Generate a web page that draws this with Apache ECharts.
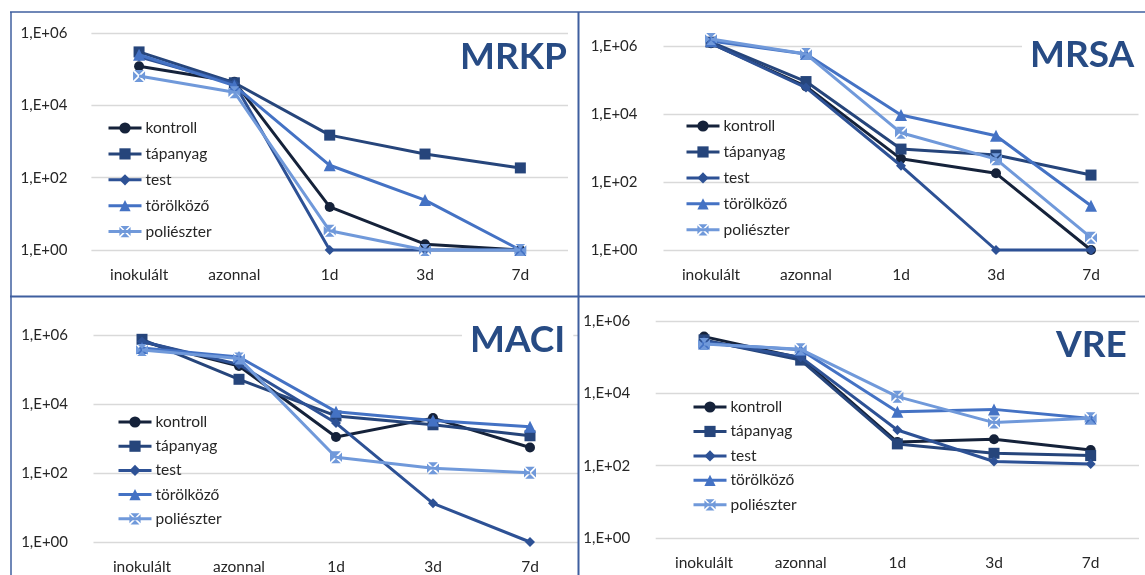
<!DOCTYPE html>
<html>
<head>
<meta charset="utf-8">
<script src="https://cdn.jsdelivr.net/npm/echarts@6/dist/echarts.min.js"></script>
<style>
html,body{margin:0;padding:0;background:#fff;}
#chart{width:1145px;height:575px;}
</style>
</head>
<body>
<div id="chart"></div>
<script>
// ---- data ----
const categories = ['inokulált', 'azonnal', '1d', '3d', '7d'];
const seriesNames = ['kontroll', 'tápanyag', 'test', 'törölköző', 'poliészter'];
const panelTitles = ['MRKP', 'MRSA', 'MACI', 'VRE'];

const mrkpKontroll   = [1.2e5, 4.5e4, 15.5, 1.45, 1];
const mrkpTapanyag   = [3.0e5, 4.2e4, 1.5e3, 450, 186];
const mrkpTest       = [2.2e5, 4.0e4, 1, 1, 1];
const mrkpTorolkozo  = [2.5e5, 3.5e4, 220, 24, 1];
const mrkpPolieszter = [6.5e4, 2.3e4, 3.4, 1, 1];

const mrsaKontroll   = [1.2e6, 6.5e4, 480, 180, 1];
const mrsaTapanyag   = [1.3e6, 9.0e4, 930, 620, 160];
const mrsaTest       = [1.2e6, 6.0e4, 300, 1, 1];
const mrsaTorolkozo  = [1.4e6, 5.8e5, 9.3e3, 2.3e3, 20];
const mrsaPolieszter = [1.6e6, 5.8e5, 2.8e3, 470, 2.3];

const maciKontroll   = [6.5e5, 1.26e5, 1.1e3, 3.9e3, 550];
const maciTapanyag   = [7.5e5, 5.2e4, 4.5e3, 2.5e3, 1.2e3];
const maciTest       = [6.5e5, 1.4e5, 2.8e3, 13.2, 1];
const maciTorolkozo  = [4.2e5, 2.3e5, 6.0e3, 3.3e3, 2.2e3];
const maciPolieszter = [3.7e5, 2.1e5, 285, 137, 102];

const vreKontroll   = [3.7e5, 9.5e4, 450, 535, 270];
const vreTapanyag   = [3.0e5, 8.3e4, 400, 220, 190];
const vreTest       = [2.8e5, 1.0e5, 970, 130, 112];
const vreTorolkozo  = [2.4e5, 1.6e5, 3.1e3, 3.6e3, 2.0e3];
const vrePolieszter = [2.3e5, 1.65e5, 8.1e3, 1.55e3, 2.04e3];

const panelData = [
  [mrkpKontroll, mrkpTapanyag, mrkpTest, mrkpTorolkozo, mrkpPolieszter],
  [mrsaKontroll, mrsaTapanyag, mrsaTest, mrsaTorolkozo, mrsaPolieszter],
  [maciKontroll, maciTapanyag, maciTest, maciTorolkozo, maciPolieszter],
  [vreKontroll, vreTapanyag, vreTest, vreTorolkozo, vrePolieszter]
];

// ---- styles ----
const FONT = 'Lato';
const colors = ['#15223A', '#26457B', '#2D5195', '#4472C4', '#7099DA'];
const xSquare = 'path://M1,0 L9,0 L5,4 Z M10,1 L10,9 L6,5 Z M9,10 L1,10 L5,6 Z M0,9 L0,1 L4,5 Z';
const symbols = ['circle', 'rect', 'diamond', 'triangle', xSquare];
const symbolSizes = [10, 11, 10, 12, 12];

const grids = [
  {left: 91.4, top: 33, width: 476.6, height: 217},
  {left: 663.5, top: 46, width: 475, height: 204},
  {left: 93.5, top: 335, width: 485, height: 207},
  {left: 655.7, top: 321, width: 483.3, height: 217}
];
const yLabelMargins = [24, 26, 25.5, 25.5];
const legendPos = [
  {left: 107, top: 120, itemGap: 9.9},
  {left: 685, top: 118, itemGap: 9.95},
  {left: 117, top: 414, itemGap: 8.2},
  {left: 692, top: 399, itemGap: 8.45}
];
const titlePos = [
  {left: 452, top: 35},
  {left: 1022, top: 33},
  {left: 462, top: 318},
  {left: 1048, top: 323}
];

function expLabel(v) {
  const e = Math.round(Math.log10(v));
  const s = String(Math.abs(e)).padStart(2, '0');
  return '1,E' + (e < 0 ? '-' : '+') + s;
}

const option = {
  animation: false,
  backgroundColor: '#ffffff',
  textStyle: {fontFamily: FONT},
  grid: grids.map(g => Object.assign({containLabel: false}, g)),
  title: panelTitles.map((t, i) => ({
    text: t,
    left: titlePos[i].left,
    top: titlePos[i].top,
    padding: [4, 8, 4, 8],
    backgroundColor: '#ffffff',
    z: 1,
    textStyle: {fontFamily: FONT, fontWeight: 'bold', fontSize: 37, color: '#274B84'}
  })),
  legend: legendPos.map((p, i) => ({
    orient: 'vertical',
    left: p.left,
    top: p.top,
    itemWidth: 33,
    itemHeight: 14,
    itemGap: p.itemGap,
    padding: 0,
    data: seriesNames,
    lineStyle: {width: 3},
    textStyle: {fontFamily: FONT, fontSize: 15.5, color: '#262626', padding: [0, 0, 0, -1]}
  })),
  xAxis: grids.map((g, i) => ({
    type: 'category',
    gridIndex: i,
    data: categories,
    boundaryGap: true,
    axisLine: {show: false},
    axisTick: {show: false},
    splitLine: {show: false},
    axisLabel: {margin: 17, fontFamily: FONT, fontSize: 15.5, color: '#262626', interval: 0}
  })),
  yAxis: grids.map((g, i) => ({
    type: 'log',
    logBase: 100,
    gridIndex: i,
    min: 1,
    max: 1e6,
    axisLine: {show: false},
    axisTick: {show: false},
    splitLine: {show: true, lineStyle: {color: '#D9D9D9', width: 1.3}},
    axisLabel: {margin: yLabelMargins[i], fontFamily: FONT, fontSize: 15, color: '#262626', formatter: expLabel}
  })),
  graphic: [
    {type: 'line', shape: {x1: 10, y1: 12, x2: 1145, y2: 12}, style: {stroke: '#3F5F9F', lineWidth: 1.5}, z: 100},
    {type: 'line', shape: {x1: 11, y1: 12, x2: 11, y2: 575}, style: {stroke: '#3F5F9F', lineWidth: 1.5}, z: 100},
    {type: 'line', shape: {x1: 578.5, y1: 12, x2: 578.5, y2: 575}, style: {stroke: '#3F5F9F', lineWidth: 2}, z: 100},
    {type: 'line', shape: {x1: 10, y1: 296.5, x2: 1145, y2: 296.5}, style: {stroke: '#3F5F9F', lineWidth: 2}, z: 100}
  ],
  series: []
};

panelData.forEach((arrs, p) => {
  arrs.forEach((vals, s) => {
    option.series.push({
      type: 'line',
      name: seriesNames[s],
      xAxisIndex: p,
      yAxisIndex: p,
      data: vals,
      clip: false,
      symbol: symbols[s],
      symbolSize: symbolSizes[s],
      showAllSymbol: true,
      color: colors[s],
      lineStyle: {width: 3, color: colors[s]},
      itemStyle: {color: colors[s]},
      z: 2 + s * 0.1
    });
  });
});

const chart = echarts.init(document.getElementById('chart'), null, {renderer: 'canvas'});
chart.setOption(option);
</script>
</body>
</html>
